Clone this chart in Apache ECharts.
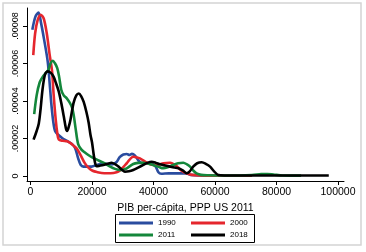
<!DOCTYPE html>
<html>
<head>
<meta charset="utf-8">
<script src="https://cdn.jsdelivr.net/npm/echarts@6/dist/echarts.min.js"></script>
<style>html,body{margin:0;padding:0;background:#fff}#c{width:366px;height:252px}</style>
</head>
<body>
<div id="c"></div>
<script>
const xTickValues = [0, 20000, 40000, 60000, 80000, 100000];
const xTickLabels = ['0', '20000', '40000', '60000', '80000', '100000'];
const yTickValues = [0, 2e-5, 4e-5, 6e-5, 8e-5];
const yTickLabels = ['0', '.00002', '.00004', '.00006', '.00008'];
const seriesNames = ['1990', '2000', '2011', '2018'];
const xTitle = 'PIB per-cápita, PPP US 2011';

const x1990 = [600,1600,2600,3500,4400,5600,6400,6800,7400,8000,9000,10500,12300,13500,14500,15500,16300,17200,19900,21500,23600,26500,28000,29000,30200,31300,32200,33000,34000,35000,36000,38500,40500,41600,42500,45000,48000,50800,52000,55000,62000];
const y1990 = [7.8e-5,8.5e-5,8.72e-5,8.1e-5,7.3e-5,6.1e-5,4.6e-5,3.8e-5,2.9e-5,2.4e-5,2.2e-5,2.0e-5,1.83e-5,1.7e-5,1.5e-5,0.94e-5,0.6e-5,0.5e-5,0.5e-5,0.59e-5,0.66e-5,0.62e-5,0.75e-5,1.0e-5,1.15e-5,1.17e-5,1.12e-5,1.18e-5,1.08e-5,0.85e-5,0.7e-5,0.68e-5,0.55e-5,0.2e-5,0.12e-5,0.14e-5,0.14e-5,0.14e-5,0.06e-5,0.03e-5,0.02e-5];

const x2000 = [900,1500,2300,3300,4300,5300,6200,7000,7500,8200,8700,9200,10500,11900,13000,14000,15100,16200,17600,18900,20200,21600,24000,26000,28000,29100,30300,31300,33400,35600,37800,39900,41500,43200,45400,47500,49000,50800,52500,55000,60000,72000];
const y2000 = [6.45e-5,7.6e-5,8.3e-5,8.6e-5,8.4e-5,7.6e-5,6.5e-5,5.6e-5,4.4e-5,3.0e-5,2.3e-5,1.94e-5,1.88e-5,1.85e-5,1.75e-5,1.62e-5,1.45e-5,1.14e-5,0.7e-5,0.43e-5,0.28e-5,0.21e-5,0.15e-5,0.15e-5,0.2e-5,0.3e-5,0.5e-5,0.68e-5,1.03e-5,0.94e-5,0.71e-5,0.59e-5,0.6e-5,0.68e-5,0.71e-5,0.53e-5,0.3e-5,0.14e-5,0.06e-5,0.03e-5,0.02e-5,0.01e-5];

const x2011 = [1200,2000,3000,4000,5000,5800,6500,7200,8000,8700,9300,10000,10800,11800,12600,13400,14000,14700,15500,16500,17700,18800,20200,21600,23700,25900,27500,29100,30300,31300,33400,35000,36700,38300,39900,41500,43200,44800,46400,48000,49700,50900,51900,53000,54000,55500,58000,62000,68000,72000,75000,77000,79000,82000,88000];
const y2011 = [3.3e-5,4.3e-5,5.0e-5,5.3e-5,5.5e-5,5.65e-5,6.0e-5,6.15e-5,6.0e-5,5.75e-5,5.3e-5,4.6e-5,4.3e-5,4.14e-5,3.95e-5,3.7e-5,3.3e-5,2.5e-5,1.7e-5,1.42e-5,1.25e-5,1.12e-5,0.98e-5,0.87e-5,0.71e-5,0.5e-5,0.38e-5,0.32e-5,0.35e-5,0.41e-5,0.64e-5,0.7e-5,0.71e-5,0.66e-5,0.59e-5,0.5e-5,0.41e-5,0.48e-5,0.59e-5,0.68e-5,0.71e-5,0.62e-5,0.5e-5,0.28e-5,0.14e-5,0.06e-5,0.04e-5,0.03e-5,0.03e-5,0.05e-5,0.1e-5,0.11e-5,0.08e-5,0.03e-5,0.02e-5];

const x2018 = [1000,2000,2700,3300,3900,4700,5600,6600,7500,8300,9200,10000,10800,11500,11900,12400,13000,14000,14900,15700,16500,17300,18200,18900,19500,20000,20500,21000,21500,22500,23700,25000,26400,27600,28600,29600,30700,32000,33400,35000,36700,38000,39400,40800,42100,43800,45400,46800,48100,49500,50800,51800,52900,54200,55700,57000,58400,59700,61100,63000,70000,80000,90000,97000];
const y2018 = [1.94e-5,2.4e-5,2.8e-5,3.6e-5,4.6e-5,5.4e-5,5.58e-5,5.5e-5,5.3e-5,4.95e-5,4.5e-5,3.9e-5,3.2e-5,2.55e-5,2.4e-5,2.6e-5,3.0e-5,3.9e-5,4.3e-5,4.4e-5,4.25e-5,3.95e-5,3.4e-5,2.85e-5,2.2e-5,1.8e-5,1.2e-5,0.7e-5,0.52e-5,0.55e-5,0.59e-5,0.65e-5,0.71e-5,0.62e-5,0.5e-5,0.35e-5,0.23e-5,0.25e-5,0.32e-5,0.45e-5,0.59e-5,0.7e-5,0.76e-5,0.7e-5,0.62e-5,0.56e-5,0.5e-5,0.45e-5,0.41e-5,0.3e-5,0.15e-5,0.25e-5,0.5e-5,0.68e-5,0.73e-5,0.65e-5,0.5e-5,0.25e-5,0.05e-5,0.03e-5,0.03e-5,0.03e-5,0.03e-5,0.03e-5];

const colors = ['#2a4c9f', '#e5262d', '#14873b', '#000000'];
const xs = [x1990, x2000, x2011, x2018];
const ys = [y1990, y2000, y2011, y2018];

const font = "'Liberation Sans', Arial, sans-serif";
const chart = echarts.init(document.getElementById('c'), null, {renderer: 'canvas'});

const series = seriesNames.map((n, i) => ({
  name: n,
  type: 'line',
  data: xs[i].map((x, j) => [x, ys[i][j]]),
  showSymbol: false,
  smooth: 0.3,
  lineStyle: {color: colors[i], width: 2.6},
  itemStyle: {color: colors[i]},
  emphasis: {disabled: true},
  animation: false,
  z: 2 + i
}));

function lookup(vals, labels, v, tol) {
  for (let k = 0; k < vals.length; k++) {
    if (Math.abs(v - vals[k]) < tol) return labels[k];
  }
  return '';
}

chart.setOption({
  animation: false,
  backgroundColor: '#ffffff',
  grid: {left: 27, right: 22, top: 8, bottom: 71, containLabel: false},
  xAxis: {
    type: 'value',
    min: -1138, max: 101950,
    name: xTitle,
    nameLocation: 'middle',
    nameGap: 17,
    nameTextStyle: {fontFamily: font, fontSize: 10.5, color: '#000'},
    axisLine: {show: true, onZero: false, lineStyle: {color: '#000', width: 1}},
    axisTick: {show: true, length: 4, customValues: xTickValues, lineStyle: {color: '#000'}},
    axisLabel: {customValues: xTickValues, fontFamily: font, fontSize: 10.5, color: '#000', margin: 6,
      formatter: v => lookup(xTickValues, xTickLabels, v, 1e-3)},
    splitLine: {show: false}
  },
  yAxis: {
    type: 'value',
    min: -0.267e-5, max: 8.96e-5,
    axisLine: {show: true, onZero: false, lineStyle: {color: '#000', width: 1}},
    axisTick: {show: true, length: 4, customValues: yTickValues, lineStyle: {color: '#000'}},
    axisLabel: {customValues: yTickValues, rotate: 90, fontFamily: font, fontSize: 9, color: '#000', margin: 7,
      formatter: v => lookup(yTickValues, yTickLabels, v, 1e-9)},
    splitLine: {show: false}
  },
  legend: [
    {data: ['1990', '2011'], orient: 'vertical', left: 119, top: 218, padding: 0, itemGap: 2,
     icon: 'rect', itemWidth: 34, itemHeight: 3, selectedMode: false,
     textStyle: {fontFamily: font, fontSize: 8, lineHeight: 10, color: '#000'}},
    {data: ['2000', '2018'], orient: 'vertical', left: 191, top: 218, padding: 0, itemGap: 2,
     icon: 'rect', itemWidth: 34, itemHeight: 3, selectedMode: false,
     textStyle: {fontFamily: font, fontSize: 8, lineHeight: 10, color: '#000'}}
  ],
  graphic: [
    {type: 'rect', shape: {x: 3, y: 3, width: 358, height: 242}, style: {fill: 'none', stroke: '#d4d4d4', lineWidth: 1.5}, silent: true},
    {type: 'rect', shape: {x: 115.5, y: 214.5, width: 139, height: 28}, style: {fill: 'none', stroke: '#000', lineWidth: 1}, silent: true}
  ],
  series: series
});
</script>
</body>
</html>
